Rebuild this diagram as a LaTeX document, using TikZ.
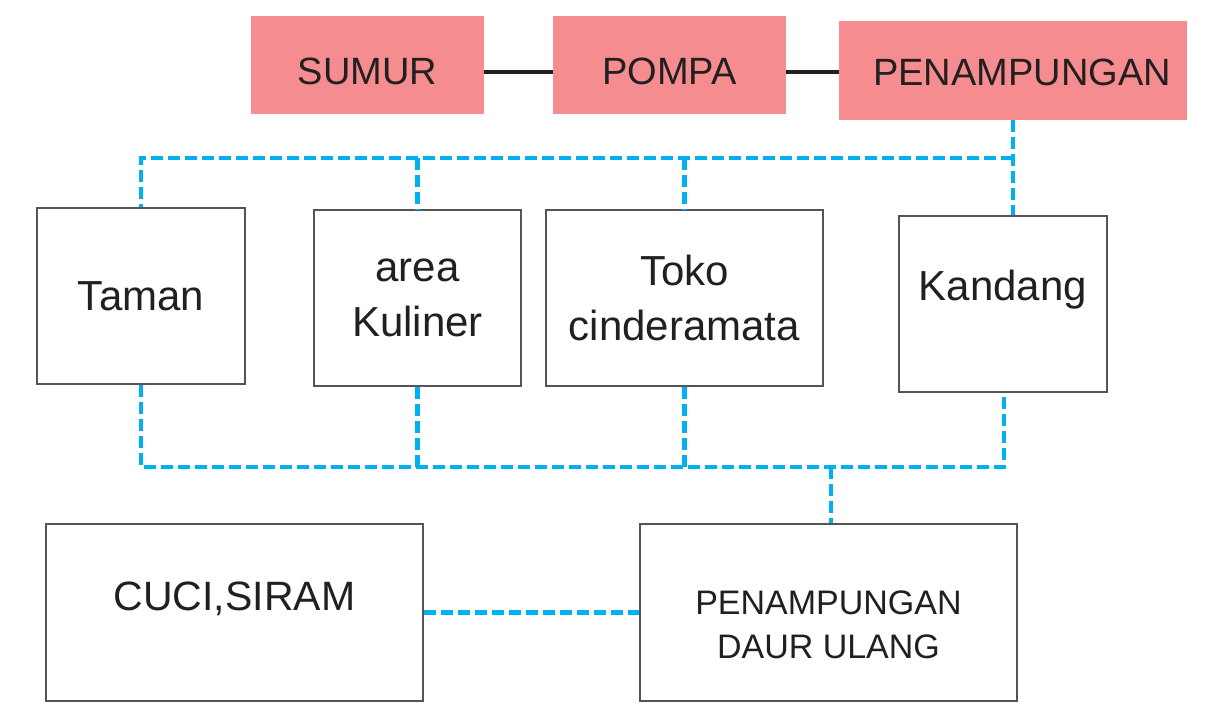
\documentclass[tikz,border=0pt]{standalone}
\usepackage{fontspec}
\setmainfont{Liberation Sans}
\definecolor{pinkfill}{HTML}{F58C8F}
\definecolor{ink}{HTML}{231F20}
\definecolor{bluedash}{HTML}{00B0F0}
\definecolor{boxline}{HTML}{555555}
\newcommand{\shiftup}[2]{\raisebox{#1}[\height][\depth]{#2}}
\begin{document}
\begin{tikzpicture}[x=1pt,y=-1pt,
  pinkbox/.style={fill=pinkfill,draw=none,text=ink,inner sep=0pt,font=\fontsize{38}{44}\selectfont},
  whitebox/.style={draw=boxline,line width=1.3pt,fill=white,text=ink,inner sep=0pt,align=center,minimum height=176pt},
  solidlink/.style={draw=ink,line width=4pt},
  bluelink/.style={draw=bluedash,line width=4.2pt,dash pattern=on 12pt off 5pt}]
\useasboundingbox (0,0) rectangle (1208,709);
% top row
\node[pinkbox,minimum width=233pt,minimum height=98pt] (sumur) at (367.5,65) {\shiftup{-6pt}{SUMUR}};
\node[pinkbox,minimum width=233pt,minimum height=98pt] (pompa) at (669.5,65) {\shiftup{-6pt}{POMPA}};
\node[pinkbox,minimum width=348pt,minimum height=99pt] (pen) at (1013,70.5) {\hspace{18pt}\shiftup{-2pt}{PENAMPUNGAN}};
\coordinate (lineY) at (0,72);
\draw[solidlink] (sumur.east |- lineY) -- (pompa.west |- lineY);
\draw[solidlink] (pompa.east |- lineY) -- (pen.west |- lineY);
% middle row
\node[whitebox,minimum width=208pt,font=\fontsize{42}{55}\selectfont] (taman) at (141,296) {Taman};
\node[whitebox,minimum width=207pt,font=\fontsize{42}{55}\selectfont] (kuliner) at (417.5,298) {area\\Kuliner};
\node[whitebox,minimum width=277pt,font=\fontsize{42}{55}\selectfont] (toko) at (684.5,298) {Toko\\cinderamata};
\node[whitebox,minimum width=208pt,font=\fontsize{42}{55}\selectfont] (kandang) at (1003,304) {\shiftup{14pt}{Kandang}};
% bottom row
\node[whitebox,minimum width=377pt,minimum height=177pt,font=\fontsize{41}{50}\selectfont] (cuci) at (234.5,612.5) {\shiftup{14pt}{CUCI,SIRAM}};
\node[whitebox,minimum width=377pt,minimum height=177pt,font=\fontsize{34}{44}\selectfont] (daur) at (828.5,612.5) {\shiftup{-15pt}{\begin{tabular}{@{}c@{}}PENAMPUNGAN\\DAUR ULANG\end{tabular}}};
% bus coordinates
\coordinate (topR) at (1013,158);
\coordinate (botR) at (1004,467);
\coordinate (botJ) at (831,467);
% top distribution
\draw[bluelink] (pen.south -| topR) -- (topR |- kandang.north);
\draw[bluelink] (topR) -- (taman.north |- topR) -- (taman.north);
\draw[bluelink] (kuliner.north |- topR) -- (kuliner.north);
\draw[bluelink] (toko.north |- topR) -- (toko.north);
% bottom collection
\draw[bluelink] (taman.south) -- (taman.south |- botR) -- (botR) -- (kandang.south -| botR);
\draw[bluelink] (kuliner.south) -- (kuliner.south |- botR);
\draw[bluelink] (toko.south) -- (toko.south |- botR);
\draw[bluelink] (botJ) -- (botJ |- daur.north);
\draw[bluelink] (cuci.east) -- (daur.west);
\end{tikzpicture}
\end{document}
